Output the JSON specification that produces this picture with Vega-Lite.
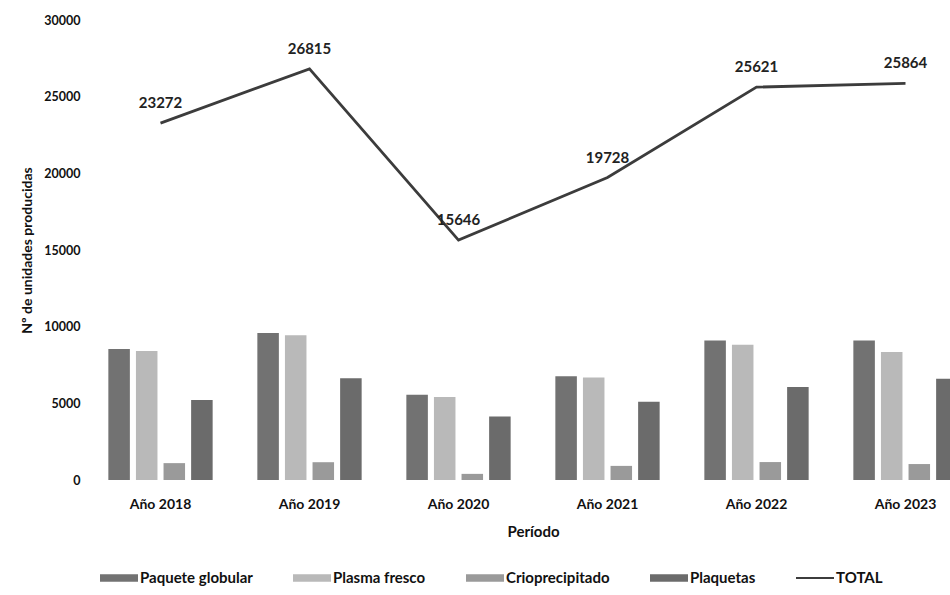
{
  "$schema": "https://vega.github.io/schema/vega-lite/v6.json",
  "width": 864,
  "height": 460,
  "autosize": {"type": "none"},
  "padding": {"left": 86, "top": 20, "right": 0, "bottom": 115},
  "background": "white",
  "config": {
    "view": {"stroke": null},
    "font": "Lato",
    "axis": {"labelFont": "Lato", "titleFont": "Lato", "labelFontWeight": "bold", "titleFontWeight": "bold", "labelColor": "#111", "titleColor": "#111", "grid": false, "ticks": false, "domain": false}
  },
  "datasets": {
    "bars": [
      {"periodo": "Año 2018", "serie": "Paquete globular", "valor": 8540},
      {"periodo": "Año 2018", "serie": "Plasma fresco", "valor": 8420},
      {"periodo": "Año 2018", "serie": "Crioprecipitado", "valor": 1100},
      {"periodo": "Año 2018", "serie": "Plaquetas", "valor": 5212},
      {"periodo": "Año 2019", "serie": "Paquete globular", "valor": 9580},
      {"periodo": "Año 2019", "serie": "Plasma fresco", "valor": 9440},
      {"periodo": "Año 2019", "serie": "Crioprecipitado", "valor": 1160},
      {"periodo": "Año 2019", "serie": "Plaquetas", "valor": 6635},
      {"periodo": "Año 2020", "serie": "Paquete globular", "valor": 5560},
      {"periodo": "Año 2020", "serie": "Plasma fresco", "valor": 5420},
      {"periodo": "Año 2020", "serie": "Crioprecipitado", "valor": 400},
      {"periodo": "Año 2020", "serie": "Plaquetas", "valor": 4140},
      {"periodo": "Año 2021", "serie": "Paquete globular", "valor": 6760},
      {"periodo": "Año 2021", "serie": "Plasma fresco", "valor": 6680},
      {"periodo": "Año 2021", "serie": "Crioprecipitado", "valor": 920},
      {"periodo": "Año 2021", "serie": "Plaquetas", "valor": 5100},
      {"periodo": "Año 2022", "serie": "Paquete globular", "valor": 9100},
      {"periodo": "Año 2022", "serie": "Plasma fresco", "valor": 8820},
      {"periodo": "Año 2022", "serie": "Crioprecipitado", "valor": 1170},
      {"periodo": "Año 2022", "serie": "Plaquetas", "valor": 6070},
      {"periodo": "Año 2023", "serie": "Paquete globular", "valor": 9100},
      {"periodo": "Año 2023", "serie": "Plasma fresco", "valor": 8340},
      {"periodo": "Año 2023", "serie": "Crioprecipitado", "valor": 1040},
      {"periodo": "Año 2023", "serie": "Plaquetas", "valor": 6600}
    ],
    "total": [
      {"periodo": "Año 2018", "serie": "TOTAL", "valor": 23272},
      {"periodo": "Año 2019", "serie": "TOTAL", "valor": 26815},
      {"periodo": "Año 2020", "serie": "TOTAL", "valor": 15646},
      {"periodo": "Año 2021", "serie": "TOTAL", "valor": 19728},
      {"periodo": "Año 2022", "serie": "TOTAL", "valor": 25621},
      {"periodo": "Año 2023", "serie": "TOTAL", "valor": 25864}
    ]
  },
  "encoding": {
    "x": {
      "field": "periodo", "type": "nominal", "sort": null,
      "scale": {"range": [0, 894], "paddingInner": 0.3, "paddingOuter": 0.15},
      "axis": {"title": "Período", "labelAngle": 0, "labelFontSize": 14, "labelPadding": 17, "titleFontSize": 15, "titlePadding": 13}
    },
    "y": {
      "field": "valor", "type": "quantitative",
      "scale": {"domain": [0, 30000]},
      "axis": {"title": "Nº de unidades producidas", "values": [0, 5000, 10000, 15000, 20000, 25000, 30000], "format": "d", "labelFontSize": 12.5, "labelPadding": 6, "titleFontSize": 14, "titlePadding": 9}
    }
  },
  "layer": [
    {
      "data": {"name": "bars"},
      "mark": {"type": "bar", "clip": true},
      "encoding": {
        "xOffset": {"field": "serie", "type": "nominal", "sort": ["Paquete globular", "Plasma fresco", "Crioprecipitado", "Plaquetas"], "scale": {"paddingInner": 0.22}},
        "color": {
          "field": "serie", "type": "nominal",
          "scale": {"domain": ["Paquete globular", "Plasma fresco", "Crioprecipitado", "Plaquetas", "TOTAL"], "range": ["#727272", "#b9b9b9", "#9a9a9a", "#6b6b6b", "#3c3c3c"]},
          "legend": {
            "title": null, "orient": "none", "direction": "horizontal", "columns": 5,
            "legendX": 14, "legendY": 539,
            "labelFont": "Lato", "labelFontWeight": "bold", "labelFontSize": 15, "labelColor": "#111",
            "symbolType": "M-1,-0.2H1V0.2H-1Z", "symbolSize": 1444, "symbolStrokeWidth": 0,
            "columnPadding": 40, "labelOffset": 2,
            "encode": {"symbols": {"update": {"shape": {"signal": "datum.value === 'TOTAL' ? 'M-1,-0.05H1V0.05H-1Z' : 'M-1,-0.2H1V0.2H-1Z'"}}}}
          }
        }
      }
    },
    {
      "data": {"name": "total"},
      "mark": {"type": "line", "strokeWidth": 2.8, "clip": true},
      "encoding": {
        "color": {"field": "serie", "type": "nominal"}
      }
    },
    {
      "data": {"name": "total"},
      "mark": {"type": "text", "font": "Lato", "fontWeight": "bold", "fontSize": 15, "baseline": "bottom", "dy": -12, "color": "#222"},
      "encoding": {
        "text": {"field": "valor", "type": "quantitative", "format": "d"}
      }
    }
  ]
}
